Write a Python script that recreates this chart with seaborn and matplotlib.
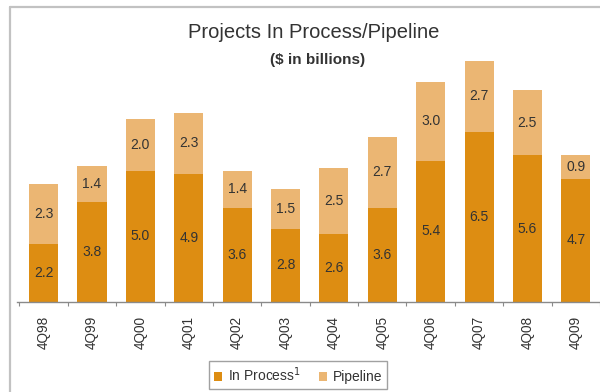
"""Projects in process / pipeline stacked bars

"""

import numpy as np
import pandas as pd
import seaborn as sns
import matplotlib.pyplot as plt
from matplotlib.lines import Line2D
from matplotlib.patches import Patch
from matplotlib.ticker import FixedLocator

quarters = ["4Q98", "4Q99", "4Q00", "4Q01", "4Q02", "4Q03",
            "4Q04", "4Q05", "4Q06", "4Q07", "4Q08", "4Q09"]
in_process = [2.2, 3.8, 5.0, 4.9, 3.6, 2.8, 2.6, 3.6, 5.4, 6.5, 5.6, 4.7]
pipeline = [2.3, 1.4, 2.0, 2.3, 1.4, 1.5, 2.5, 2.7, 3.0, 2.7, 2.5, 0.9]

DARK = "#DD8D12"
LIGHT = "#EBB673"
TEXT = "#333333"

sns.set_style("white")
plt.rcParams["font.family"] = ["Liberation Sans", "DejaVu Sans"]

df = pd.DataFrame({"quarter": quarters,
                   "in_process": in_process,
                   "pipeline": pipeline})
df["total"] = df["in_process"] + df["pipeline"]

fig = plt.figure(figsize=(6, 3.92), dpi=100)
ax = fig.add_axes([17 / 600, 90 / 392, 583 / 600, 262 / 392])

sns.barplot(data=df, x="quarter", y="total", color=LIGHT, width=0.6,
            saturation=1, linewidth=0, ax=ax)
sns.barplot(data=df, x="quarter", y="in_process", color=DARK, width=0.6,
            saturation=1, linewidth=0, ax=ax)

for i, row in df.iterrows():
    ax.text(i, row["in_process"] / 2, f"{row['in_process']:.1f}",
            ha="center", va="center", fontsize=10, color=TEXT)
    ax.text(i, row["in_process"] + row["pipeline"] / 2,
            f"{row['pipeline']:.1f}",
            ha="center", va="center", fontsize=10, color=TEXT)

ax.set_xlim(-0.55, 11.5)
ax.set_ylim(0, 10)
ax.set_xlabel("")
ax.set_ylabel("")
ax.set_yticks([])
for side in ("top", "right", "left"):
    ax.spines[side].set_visible(False)
ax.spines["bottom"].set_color("#8a8a8a")
ax.spines["bottom"].set_linewidth(1)

ax.tick_params(axis="x", which="major", length=0, pad=10,
               labelsize=9.8, labelcolor=TEXT, rotation=90)
ax.xaxis.set_minor_locator(FixedLocator(np.arange(-0.5, 12, 1)))
ax.tick_params(axis="x", which="minor", length=3, width=0.8,
               color="#8a8a8a", bottom=True)

fig.text(0.523, 0.916, "Projects In Process/Pipeline",
         ha="center", va="center", fontsize=14.5, color=TEXT)
fig.text(0.529, 0.847, "($ in billions)",
         ha="center", va="center", fontsize=11, fontweight="bold",
         color=TEXT)

handles = [Patch(facecolor=DARK, edgecolor="none"),
           Patch(facecolor=LIGHT, edgecolor="none")]
leg = fig.legend(handles, ["In Process$^{1}$", "Pipeline"],
                 loc="center", bbox_to_anchor=(0.497, 0.043), ncol=2,
                 fontsize=10, frameon=True, fancybox=False,
                 handlelength=0.6, handleheight=0.6, handletextpad=0.4,
                 columnspacing=1.3, borderpad=0.35)
leg.get_frame().set_edgecolor("#8a8a8a")
leg.get_frame().set_linewidth(1)
for t in leg.get_texts():
    t.set_color(TEXT)

# outer frame of the slide (only top and left are visible in the crop)
fig.add_artist(Line2D([10 / 600, 10 / 600], [0, 1 - 7 / 392],
                      color="#c2c2c2", linewidth=1.6))
fig.add_artist(Line2D([10 / 600, 1], [1 - 7 / 392, 1 - 7 / 392],
                      color="#c2c2c2", linewidth=1.6))

fig.savefig("out.png", dpi=100)
